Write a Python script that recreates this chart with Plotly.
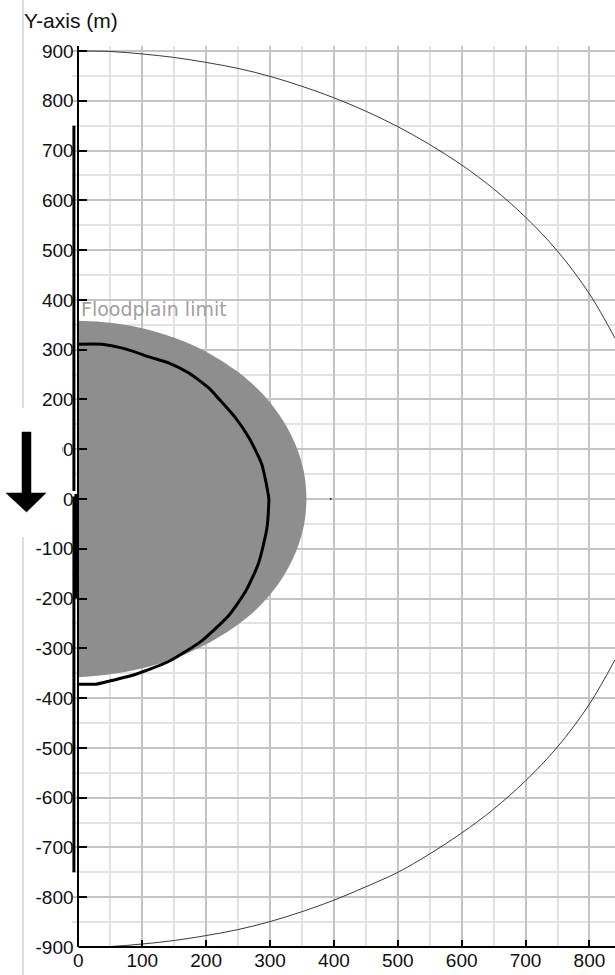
'''Floodplain limit plot, half-plane view with the outer study circle'''
import plotly.graph_objects as go

# axes
X_RANGE = [-10, 840]
Y_RANGE = [-900, 910]
x_ticks = [0, 100, 200, 300, 400, 500, 600, 700, 800]
y_ticks = [-900, -800, -700, -600, -500, -400, -300, -200, -100, 0,
           100, 200, 300, 400, 500, 600, 700, 800, 900]

# outer circle (thin line)
arc_x = [0, 50, 100, 150, 200, 250, 300, 350, 400, 450, 500, 550, 600,
         650, 700, 750, 800, 840]
arc_upper = [900, 899, 894, 887, 877, 865, 849, 829, 806, 779, 748, 712,
             671, 623, 566, 498, 412, 323]
arc_lower = [-900, -899, -894, -887, -877, -865, -849, -829, -806, -779,
             -750, -713, -671, -623, -566, -498, -412, -323]

# grey flooded area, upper and lower edge
flood_edge_x = [0, 50, 100, 150, 200, 250, 280, 300, 320, 335, 345, 352, 355, 357]
flood_upper = [358, 354, 343, 324, 296, 255, 222, 194, 158, 123, 92, 60, 38, 0]
flood_lower = [-358, -352, -340, -321, -292, -252, -220, -192, -157, -122, -91, -59, -37, 0]

# black limit line
limit_x = [0, 37, 75, 112, 142, 173, 204, 220, 246, 267, 287, 298, 298,
           295, 282, 262, 236, 193, 142, 90, 48, 28, 0]
limit_y = [311, 311, 301, 285, 273, 253, 223, 201, 163, 123, 70, 2, -10,
           -60, -129, -185, -233, -285, -326, -352, -366, -372, -372]

# bank segments left of the axis
bank_top_x, bank_top_y = [-7, -7], [750, 16]
bank_bot_x, bank_bot_y = [-7, -7], [5, -750]
bank_mid_x, bank_mid_y = [-3, -3], [10, -200]

# lone point on the centre line
dot_x, dot_y = [395], [0]

W, H = 615, 975
M_L, M_R, M_T, M_B = 72, 0, 46, 28
PW, PH = W - M_L - M_R, H - M_T - M_B


def px_x(px):
    '''window pixel column -> paper x'''
    return (px - M_L) / PW


def px_y(py):
    '''window pixel row -> paper y'''
    return (H - M_B - py) / PH


fig = go.Figure()

flood_x = flood_edge_x + flood_edge_x[::-1][1:]
flood_y = flood_upper + flood_lower[::-1][1:]
fig.add_trace(go.Scatter(x=flood_x, y=flood_y, mode='lines', fill='toself',
                         fillcolor='#8e8e8e', line=dict(width=0, shape='spline'),
                         hoverinfo='skip'))
fig.add_trace(go.Scatter(x=arc_x, y=arc_upper, mode='lines',
                         line=dict(color='#3a3a3a', width=1, shape='spline')))
fig.add_trace(go.Scatter(x=arc_x, y=arc_lower, mode='lines',
                         line=dict(color='#3a3a3a', width=1, shape='spline')))
fig.add_trace(go.Scatter(x=limit_x, y=limit_y, mode='lines',
                         line=dict(color='black', width=3, shape='spline',
                                   smoothing=0.6)))
for bx, by, bw in [(bank_top_x, bank_top_y, 3), (bank_bot_x, bank_bot_y, 3),
                   (bank_mid_x, bank_mid_y, 4)]:
    fig.add_trace(go.Scatter(x=bx, y=by, mode='lines',
                             line=dict(color='black', width=bw)))
fig.add_trace(go.Scatter(x=dot_x, y=dot_y, mode='markers',
                         marker=dict(color='#333333', size=2)))

tick_font = dict(family='Liberation Sans', size=19, color='#111111')

fig.update_layout(
    width=W, height=H,
    margin=dict(l=M_L, r=M_R, t=M_T, b=M_B, autoexpand=False),
    paper_bgcolor='white', plot_bgcolor='white',
    showlegend=False,
    xaxis=dict(range=X_RANGE, tickmode='array', tickvals=x_ticks,
               ticktext=[str(v) for v in x_ticks], tickfont=tick_font,
               ticks='inside', ticklen=7, tickwidth=1.5, tickcolor='black',
               showline=False, zeroline=False, automargin=False,
               showgrid=True, gridcolor='#c4c4c4', gridwidth=1.5,
               minor=dict(dtick=50, showgrid=True, gridcolor='#e2e2e2',
                          gridwidth=1.5, ticks='')),
    yaxis=dict(range=Y_RANGE, anchor='free',
               position=(0 - X_RANGE[0]) / (X_RANGE[1] - X_RANGE[0]),
               tickmode='array', tickvals=y_ticks,
               ticktext=[str(v) for v in y_ticks], tickfont=tick_font,
               ticks='inside', ticklen=8, tickwidth=1.5, tickcolor='black',
               showline=True, linecolor='black', linewidth=2, zeroline=False,
               automargin=False,
               showgrid=True, gridcolor='#c4c4c4', gridwidth=1.5,
               minor=dict(dtick=50, showgrid=True, gridcolor='#e2e2e2',
                          gridwidth=1.5, ticks='')),
)

# blank strip left of the y axis, over the grid
fig.add_shape(type='rect', xref='x', yref='paper', x0=X_RANGE[0], x1=0,
              y0=0, y1=1, fillcolor='white', line_width=0, layer='between')
# bottom axis line from x=0
fig.add_shape(type='line', xref='x', yref='paper', x0=0, x1=X_RANGE[1],
              y0=0, y1=0, line=dict(color='black', width=2))

# window border on the far left
fig.add_shape(type='line', xref='paper', yref='paper', x0=px_x(23), x1=px_x(23),
              y0=px_y(0), y1=px_y(408), line=dict(color='#d0d0d0', width=1.5))
fig.add_shape(type='line', xref='paper', yref='paper', x0=px_x(23), x1=px_x(23),
              y0=px_y(537), y1=px_y(975), line=dict(color='#d0d0d0', width=1.5))

# flow arrow on a white box
fig.add_shape(type='rect', xref='paper', yref='paper', x0=px_x(24), x1=px_x(62),
              y0=px_y(537), y1=px_y(408), fillcolor='white', line_width=0,
              layer='above')
arrow = [(22, 432), (31, 432), (31, 493), (46, 493), (26.5, 512), (6, 493), (22, 493)]
path = 'M ' + ' L '.join(f'{px_x(a):.4f},{px_y(b):.4f}' for a, b in arrow) + ' Z'
fig.add_shape(type='path', xref='paper', yref='paper', path=path,
              fillcolor='black', line=dict(color='black', width=0.5), layer='above')

fig.add_annotation(text='Y-axis (m)', xref='paper', yref='paper',
                   x=px_x(22), y=px_y(20), xanchor='left', yanchor='middle',
                   showarrow=False,
                   font=dict(family='Liberation Sans', size=21, color='#111111'))
fig.add_annotation(text='Floodplain limit', xref='x', yref='y',
                   x=0, y=382, xanchor='left', yanchor='middle', xshift=1,
                   showarrow=False,
                   font=dict(family='DejaVu Sans', size=19, color='#a0a0a0'))

# drop the page's default body margin so the figure sits at the window origin
fig.write_html('out.html', config={'displayModeBar': False},
               post_script="document.body.style.margin='0px';"
                           "document.body.style.overflow='hidden';")
